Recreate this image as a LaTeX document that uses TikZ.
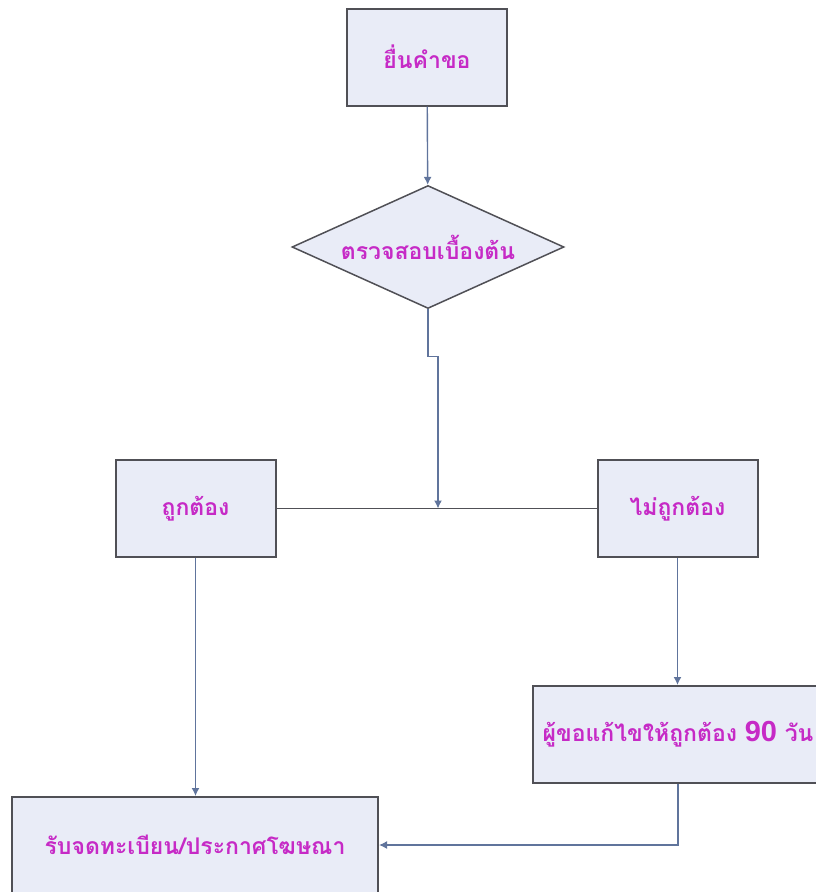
\documentclass[tikz,border=0pt]{standalone}
\usepackage{fontspec}
\newfontfamily\thaifont[Script=Thai]{Loma}
\newfontfamily\numfont{Liberation Sans}
\usetikzlibrary{arrows,arrows.meta,%
                shapes,positioning}
\definecolor{boxfill}{RGB}{233,236,247}
\definecolor{boxline}{RGB}{80,80,86}
\definecolor{linkblue}{RGB}{96,116,156}
\definecolor{textpink}{RGB}{198,42,198}

\begin{document}
\begin{tikzpicture}[x = 1pt, y = -1pt]
  \useasboundingbox (0,0) rectangle (815,892);
  \tikzset{BoxStyle/.style     = {shape          = rectangle,
                                  draw           = boxline,
                                  line width     = 2pt,
                                  fill           = boxfill,
                                  text           = textpink,
                                  font           = \thaifont\bfseries\fontsize{23}{26}\selectfont,
                                  inner sep      = 0pt,
                                  minimum width  = 160pt,
                                  minimum height = 97pt}}
  \tikzset{CheckStyle/.style   = {BoxStyle,
                                  shape          = diamond,
                                  line width     = 1.5pt,
                                  aspect         = 2.2,
                                  minimum width  = 272pt,
                                  minimum height = 123pt}}
  \tikzset{LinkStyle/.style    = {draw           = linkblue,
                                  line width     = 1.4pt,
                                  -{Latex[length=8pt,width=8pt]}}}
  \tikzset{JoinStyle/.style    = {draw           = boxline,
                                  line width     = 1.5pt}}
     \node[BoxStyle] (apply) at (427,57) {ยื่นคำขอ};
     \node[CheckStyle] (check) at (428,247) {ตรวจสอบเบื้องต้น};
     \node[BoxStyle] (ok) at (195.5,508.5) {ถูกต้อง};
     \node[BoxStyle] (notok) at (677.5,508.5) {ไม่ถูกต้อง};
     \node[BoxStyle, minimum width = 290pt] (fix) at (678,734.5)
          {ผู้ขอแก้ไขให้ถูกต้อง {\numfont\fontsize{29}{32}\selectfont 90} วัน};
     \node[BoxStyle, minimum width = 366pt, minimum height = 96pt] (reg) at (195,845)
          {รับจดทะเบียน/ประกาศโฆษณา};
     \coordinate (join) at (438,508.5);
     % connectors
     \draw[LinkStyle] (apply) -- (check);
     \draw[JoinStyle] (ok.east) -- (notok.west);
     \draw[LinkStyle] (check.south) -- ++(0,47) -| (join);
     \draw[LinkStyle] (ok.south) -- (ok.south |- reg.north);
     \draw[LinkStyle] (notok.south) -- (notok.south |- fix.north);
     \draw[LinkStyle] (fix.south) |- (reg.east);
  \end{tikzpicture}
\end{document}
